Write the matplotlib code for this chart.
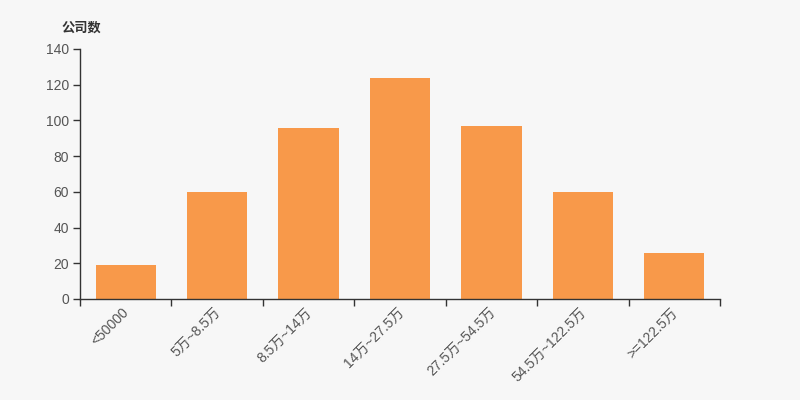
import matplotlib
matplotlib.use("Agg")
import matplotlib.pyplot as plt

plt.rcParams['font.family'] = ['Liberation Sans', 'Noto Sans CJK SC', 'DejaVu Sans']

categories = ["<50000", "5万~8.5万", "8.5万~14万", "14万~27.5万", "27.5万~54.5万", "54.5万~122.5万", ">=122.5万"]
values = [19, 60, 96, 124, 97, 60, 26]
y_ticks = [0, 20, 40, 60, 80, 100, 120, 140]
y_label = "公司数"

bg = "#f7f7f7"
bar_color = "#f8994a"
axis_color = "#333333"
text_color = "#555555"

fig = plt.figure(figsize=(8, 4), dpi=100, facecolor=bg)
ax = fig.add_axes([0.1, 0.2525, 0.8, 0.625])
ax.set_facecolor(bg)

x = list(range(len(categories)))
ax.bar(x, values, width=0.66, color=bar_color, zorder=2)

ax.set_xlim(-0.5, len(categories) - 0.5)
ax.set_ylim(0, 140)
ax.set_yticks(y_ticks)
ax.set_yticklabels([str(v) for v in y_ticks], fontsize=10, color=text_color)

# ticks at category boundaries
ax.set_xticks([i - 0.5 for i in range(len(categories) + 1)])
ax.set_xticklabels([])
ax.tick_params(axis='x', length=5, color=axis_color, width=1, direction='out')
ax.tick_params(axis='y', length=5, color=axis_color, width=1, direction='out', pad=3)

for i, c in enumerate(categories):
    ax.annotate(c, xy=(i, 0), xycoords=('data', 'axes fraction'),
                xytext=(1, -8), textcoords='offset points',
                rotation=45, ha='right', va='center', rotation_mode='anchor',
                fontsize=10, color=text_color)

for s in ['top', 'right']:
    ax.spines[s].set_visible(False)
for s in ['left', 'bottom']:
    ax.spines[s].set_color(axis_color)
    ax.spines[s].set_linewidth(1)

fig.text(0.0775, 0.93, y_label, fontsize=9.5, fontweight='bold', color="#333333",
         ha='left', va='center', family=['Noto Sans CJK SC', 'DejaVu Sans'])

fig.savefig("out.png", dpi=100, facecolor=bg)
